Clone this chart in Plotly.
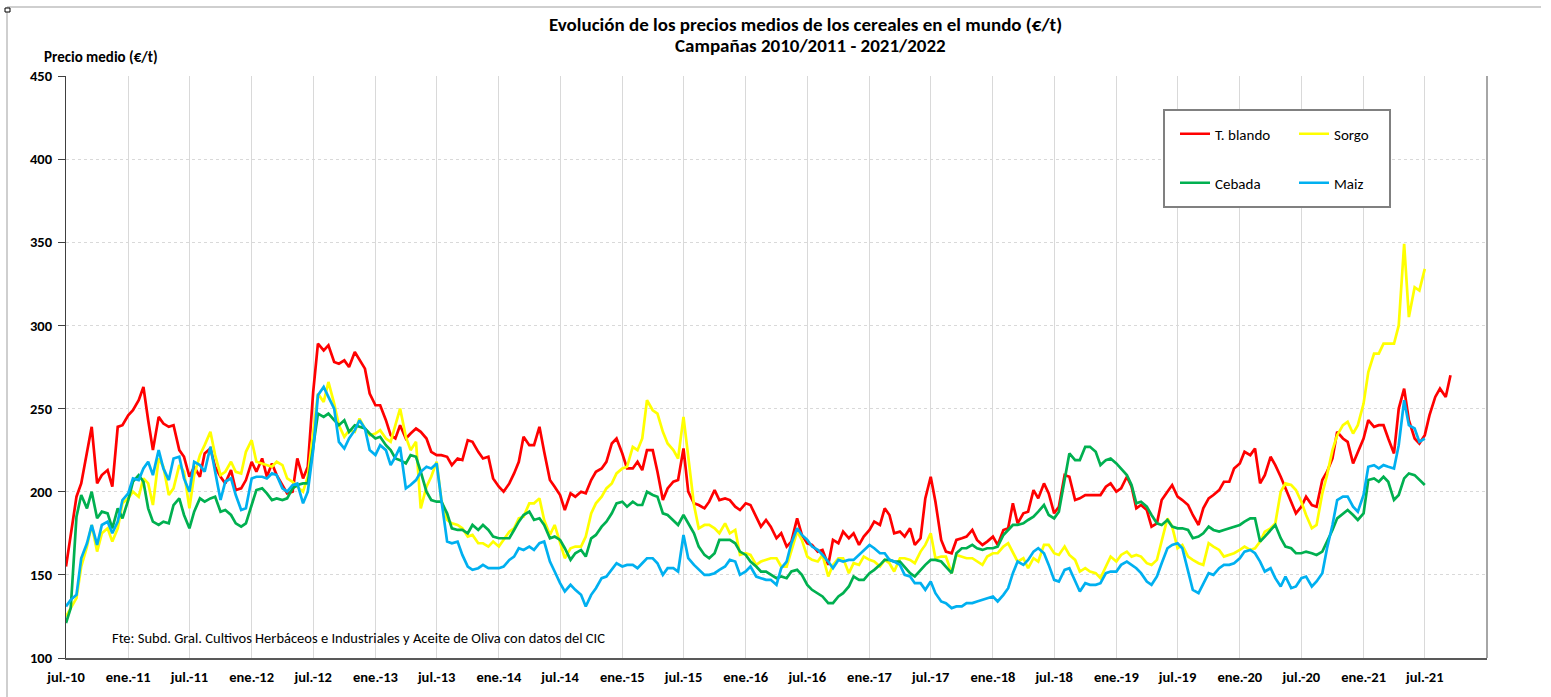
import plotly.graph_objects as go
import pandas as pd

# ---- data (semi-monthly readings, starting 1 Jul 2010) ----
t_blando = [155,173,197,205,223,239,205,210,213,203,239,240,246,249,255,263,243,225,245,241,
            239,240,225,221,209,215,209,223,226,215,209,205,213,201,202,207,218,
            212,220,209,217,210,204,199,200,220,208,215,260,289,285,288,278,277,279,275,284,
            279,274,259,252,252,243,234,232,240,232,235,238,236,232,224,222,
            222,221,216,220,219,231,230,224,220,221,208,203,200,205,211,218,233,228,228,239,
            224,207,203,198,189,199,197,200,199,207,212,214,218,229,232,223,
            214,214,218,213,225,225,212,195,202,206,207,226,200,193,192,190,194,201,195,196,
            195,191,189,193,192,185,179,183,179,172,175,167,170,184,174,169,
            168,164,165,156,171,169,176,172,175,168,173,177,182,180,190,186,175,176,173,178,
            168,172,196,209,194,171,164,163,171,172,173,177,171,168,170,173,
            168,177,178,193,181,187,188,201,196,205,199,187,191,210,209,195,196,198,198,198,
            198,203,205,200,202,209,203,190,192,189,179,181,195,200,204,197,
            195,192,186,180,190,196,198,201,206,206,214,217,224,222,226,205,210,221,216,209,
            202,193,187,191,197,192,191,207,212,220,236,232,230,217,224,232,
            243,239,240,240,232,223,250,262,243,232,229,234,246,257,262,257,270]

sorgo = [125,130,136,155,167,180,164,175,178,170,178,193,196,200,197,208,205,192,220,215,
         198,202,216,212,190,210,222,228,236,222,210,212,218,212,211,224,231,
         218,217,216,215,218,216,208,206,203,200,209,235,259,254,266,253,240,233,237,236,
         244,238,234,235,237,232,230,240,250,233,225,230,190,203,209,218,
         195,183,181,180,178,173,174,169,169,167,170,167,171,176,178,184,185,193,193,196,
         183,174,180,169,160,166,167,167,173,187,193,197,202,205,211,214,
         215,227,225,232,255,249,247,236,229,225,220,245,220,192,178,180,180,178,175,181,
         175,177,162,163,162,156,158,159,160,160,155,155,165,176,171,161,
         159,158,162,149,156,160,160,151,157,156,161,159,158,155,159,157,152,160,160,159,
         157,164,168,175,160,161,161,151,162,161,160,160,158,156,161,163,
         163,167,169,163,158,160,154,160,158,168,168,163,162,167,162,159,152,154,152,151,
         148,155,161,158,162,164,161,162,161,157,156,159,171,184,179,166,
         168,161,159,157,156,169,167,165,161,162,163,165,167,165,166,170,176,178,181,200,
         205,204,201,194,186,178,180,199,210,225,234,240,242,235,240,253,
         272,283,283,289,289,289,300,349,305,323,321,334]

cebada = [121,130,185,198,190,200,184,188,187,178,190,184,195,206,210,206,190,182,180,182,
          181,192,196,186,178,188,196,194,196,197,188,189,186,181,179,181,192,
          201,202,199,195,196,195,196,202,204,205,205,227,247,245,247,243,240,243,236,240,
          239,238,235,232,233,228,225,220,219,217,222,221,212,200,195,194,
          194,187,178,177,177,175,180,177,180,177,173,172,172,172,177,182,186,188,183,184,
          180,172,173,171,166,159,163,165,161,172,174,179,182,187,193,194,
          191,194,192,192,200,198,197,187,186,183,180,186,181,175,167,162,160,163,171,171,
          171,169,164,162,158,155,152,152,150,148,149,148,152,153,150,144,
          141,139,137,133,133,137,139,143,149,147,147,151,153,156,159,159,158,158,155,151,
          149,153,156,159,159,158,155,151,163,166,166,168,166,165,166,166,
          167,174,177,180,180,181,183,185,188,192,186,184,188,208,223,219,219,227,227,224,
          216,219,220,217,214,210,204,193,194,191,186,181,180,183,179,178,
          178,177,172,173,175,179,177,176,177,178,179,180,182,184,184,170,173,177,180,172,
          167,166,163,163,164,163,162,164,170,177,184,187,189,186,183,187,
          207,208,206,209,206,195,198,208,211,210,207,204]

maiz = [131,135,138,160,169,180,168,180,182,175,182,195,199,208,207,214,218,210,225,214,
        207,220,221,208,200,218,216,212,227,213,195,206,208,198,189,190,208,
        209,209,208,211,210,202,200,204,205,193,200,225,258,263,257,250,230,226,232,237,
        243,238,225,222,228,225,216,221,227,202,204,207,212,215,214,217,
        195,170,169,170,162,155,153,154,156,154,154,154,155,159,161,166,165,167,165,169,
        170,158,152,145,140,144,141,138,131,138,142,148,149,153,157,155,
        156,156,154,157,160,160,157,150,154,154,152,174,160,156,153,150,150,151,153,155,
        159,158,150,152,155,149,148,147,147,144,154,158,169,178,174,171,
        167,165,162,158,154,159,158,159,159,162,165,168,166,163,163,159,158,156,150,149,
        145,145,141,146,139,134,133,130,131,131,133,133,134,135,136,137,
        134,138,142,151,158,156,159,164,166,163,156,147,146,153,154,146,140,145,144,144,
        145,151,152,152,156,158,156,154,151,146,144,149,157,166,168,169,
        166,152,141,139,145,151,150,154,156,156,157,160,164,165,163,158,152,154,148,143,
        149,142,143,148,149,143,146,151,166,180,195,197,197,191,188,198,
        215,216,214,216,215,214,228,255,240,238,230,232]

series_names = ["T. blando", "Sorgo", "Cebada", "Maiz"]
series_colors = ["#FF0000", "#FFFF00", "#00B050", "#00B0F0"]

tick_labels = ["jul.-10", "ene.-11", "jul.-11", "ene.-12", "jul.-12", "ene.-13", "jul.-13",
               "ene.-14", "jul.-14", "ene.-15", "jul.-15", "ene.-16", "jul.-16", "ene.-17",
               "jul.-17", "ene.-18", "jul.-18", "ene.-19", "jul.-19", "ene.-20", "jul.-20",
               "ene.-21", "jul.-21"]
tick_dates = pd.date_range("2010-07-01", periods=len(tick_labels), freq="6MS")

fechas = pd.date_range("2010-07-01", periods=len(t_blando), freq="SMS")

FONT = "Carlito, Calibri, Lato, 'Open Sans', sans-serif"

# plot area in pixels
L, R, T, B = 66, 1487, 76, 658
W, H = 1551, 697


def px_x(px):
    return (px - L) / (R - L)


def px_y(py):
    return (B - py) / (B - T)


fig = go.Figure()
for name, vals, col, lg in zip(series_names, [t_blando, sorgo, cebada, maiz], series_colors,
                                ["legend", "legend", "legend2", "legend2"]):
    fig.add_trace(go.Scatter(x=fechas[:len(vals)], y=vals, mode="lines", name=name,
                             line=dict(color=col, width=2.7), legend=lg))

fig.update_layout(
    width=W, height=H,
    margin=dict(l=L, r=W - R, t=T, b=H - B, pad=0),
    paper_bgcolor="white", plot_bgcolor="white",
    font=dict(family=FONT, color="#000000"),
    hovermode=False,
    legend=dict(orientation="h", x=px_x(1175), y=px_y(134), xanchor="left", yanchor="middle",
                font=dict(size=15, family=FONT), entrywidth=74, bgcolor="rgba(0,0,0,0)"),
    legend2=dict(orientation="h", x=px_x(1175), y=px_y(183), xanchor="left", yanchor="middle",
                 font=dict(size=15, family=FONT), entrywidth=74, bgcolor="rgba(0,0,0,0)"),
)

fig.update_xaxes(type="date", range=["2010-07-01", "2022-01-01"],
                 tickvals=tick_dates, ticktext=tick_labels,
                 tickfont=dict(size=14.5, family=FONT, weight="bold", color="#000"),
                 ticks="", ticklabelstandoff=5,
                 showgrid=True, gridcolor="#D9D9D9", gridwidth=1,
                 showline=True, linecolor="#595959", linewidth=1.5, zeroline=False)
fig.update_yaxes(range=[100, 450], dtick=50, tick0=100,
                 tickfont=dict(size=14.5, family=FONT, weight="bold", color="#000"),
                 ticks="outside", ticklen=7, tickcolor="#404040", ticklabelstandoff=3,
                 showgrid=True, gridcolor="#D9D9D9", griddash="dot", gridwidth=1,
                 showline=True, linecolor="#404040", linewidth=1.2, zeroline=False)

# texts
fig.add_annotation(text="<b>Evolución de los precios medios de los cereales en el mundo (€/t)</b>",
                   x=px_x(805), y=px_y(24), xref="paper", yref="paper", showarrow=False,
                   xanchor="center", yanchor="middle", font=dict(size=19, family=FONT))
fig.add_annotation(text="<b>Campañas 2010/2011 - 2021/2022</b>",
                   x=px_x(810), y=px_y(46), xref="paper", yref="paper", showarrow=False,
                   xanchor="center", yanchor="middle", font=dict(size=19, family=FONT))
fig.add_annotation(text="<b>Precio medio (€/t)</b>",
                   x=px_x(42), y=px_y(57), xref="paper", yref="paper", showarrow=False,
                   xanchor="left", yanchor="middle", font=dict(size=15, family=FONT))
fig.add_annotation(text="Fte: Subd. Gral. Cultivos Herbáceos e Industriales y Aceite de Oliva con datos del CIC",
                   x=px_x(110), y=px_y(638), xref="paper", yref="paper", showarrow=False,
                   xanchor="left", yanchor="middle", font=dict(size=14.5, family=FONT))

# legend frame, right border and outer chart frame
fig.add_shape(type="rect", xref="paper", yref="paper",
              x0=px_x(1164), y0=px_y(110), x1=px_x(1390), y1=px_y(207),
              line=dict(color="#808080", width=2), fillcolor="white", layer="above")
fig.add_shape(type="line", xref="paper", yref="paper",
              x0=1, y0=0, x1=1, y1=1, line=dict(color="#A6A6A6", width=2))
fig.add_shape(type="line", xref="paper", yref="paper",
              x0=px_x(7), y0=px_y(7), x1=px_x(1541), y1=px_y(7),
              line=dict(color="#BFBFBF", width=1.5))
fig.add_shape(type="line", xref="paper", yref="paper",
              x0=px_x(7), y0=px_y(7), x1=px_x(7), y1=px_y(697),
              line=dict(color="#BFBFBF", width=1.5))
fig.add_shape(type="rect", xref="paper", yref="paper",
              x0=px_x(5), y0=px_y(8), x1=px_x(10), y1=px_y(12),
              line=dict(color="#000000", width=1), fillcolor="white")

fig.write_html("out.html", config={"displayModeBar": False},
               post_script="document.body.style.margin='0px';document.body.style.overflow='hidden';")
